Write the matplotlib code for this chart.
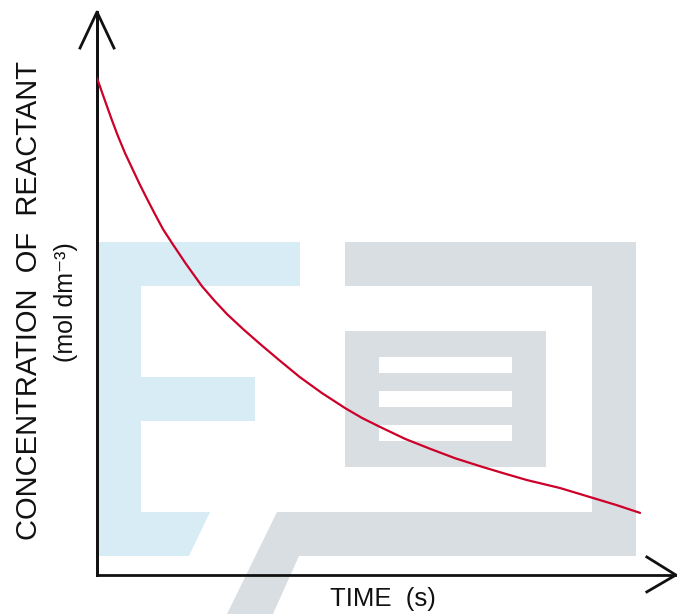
import matplotlib
matplotlib.use('Agg')
import matplotlib.pyplot as plt
from matplotlib.patches import Polygon

# concentration of reactant vs time
time_s = [0, 1.29, 2.76, 3.87, 5.16, 6.45, 7.92, 9.21, 10.68, 12.15, 13.81,
          16.39, 19.34, 21.55, 23.94, 26.89, 30.02, 33.70, 37.38, 41.44,
          45.67, 48.80, 52.12, 56.72, 61.33, 65.93, 70.53, 74.77, 79.19,
          85.27, 91.34, 95.58, 100]
conc = [1.000, 0.960, 0.915, 0.883, 0.849, 0.819, 0.785, 0.757, 0.726,
        0.696, 0.668, 0.626, 0.581, 0.553, 0.525, 0.495, 0.465, 0.431,
        0.398, 0.366, 0.336, 0.316, 0.298, 0.274, 0.254, 0.235, 0.219,
        0.205, 0.191, 0.175, 0.155, 0.141, 0.125]

W, H = 677, 614
fig = plt.figure(figsize=(W / 100, H / 100), dpi=100)
fig.patch.set_facecolor('white')


def fx(px):
    return px / W


def fy(py):
    return 1 - py / H


def shape(pts, color):
    fig.add_artist(Polygon([(fx(a), fy(b)) for a, b in pts], closed=True,
                           facecolor=color, edgecolor='none', zorder=0))


# watermark in the background
blue = '#d7ecf5'
grey = '#d9dee2'
shape([(97, 242), (300, 242), (300, 286), (141, 286), (141, 377), (255, 377),
       (255, 421), (141, 421), (141, 512), (210, 512), (189, 556), (97, 556)], blue)
shape([(345, 242), (636, 242), (636, 556), (299, 556), (273, 614), (227, 614),
       (277, 512), (592, 512), (592, 286), (345, 286)], grey)
shape([(345, 331), (546, 331), (546, 467), (345, 467)], grey)
for y0 in (357, 391, 425):
    shape([(379, y0), (512, y0), (512, y0 + 16), (379, y0 + 16)], 'white')

ax = fig.add_axes([fx(97), fy(575), fx(677 - 97), (575 - 12) / H])
ax.patch.set_alpha(0)
ax.set_xlim(0, 106.8)
ax.set_ylim(0, 1.133)
ax.plot(time_s, conc, color='#cc0028', lw=1.6, solid_capstyle='round',
        solid_joinstyle='round', zorder=3)

for s in ['top', 'right']:
    ax.spines[s].set_visible(False)
for s in ['left', 'bottom']:
    ax.spines[s].set_linewidth(2)
    ax.spines[s].set_color('#111111')
ax.set_xticks([])
ax.set_yticks([])

# arrow heads
tr = ax.transAxes
ax.plot([0, 0], [1, 0], color='#111111', lw=2, transform=tr, clip_on=False)
ax.plot([-0.0293, 0, 0.0293], [0.936, 1.0, 0.936], color='#111111', lw=2,
        transform=tr, clip_on=False)
ax.plot([0.948, 0.998, 0.948], [0.032, 0.0, -0.030], color='#111111', lw=2,
        transform=tr, clip_on=False)

fam = ['Liberation Sans', 'DejaVu Sans']
fig.text(fx(29), fy(301), 'CONCENTRATION  OF  REACTANT', rotation=90,
         ha='center', va='center', fontsize=21, family=fam, color='#111111')
fig.text(fx(66), fy(302), '(mol dm\u207b\u00b3)', rotation=90,
         ha='center', va='center', fontsize=18, family=fam, color='#111111')
fig.text(fx(383), fy(587), 'TIME  (s)', ha='center', va='top',
         fontsize=18.5, family=fam, color='#111111')

fig.savefig('out.png', dpi=100, facecolor='white')
